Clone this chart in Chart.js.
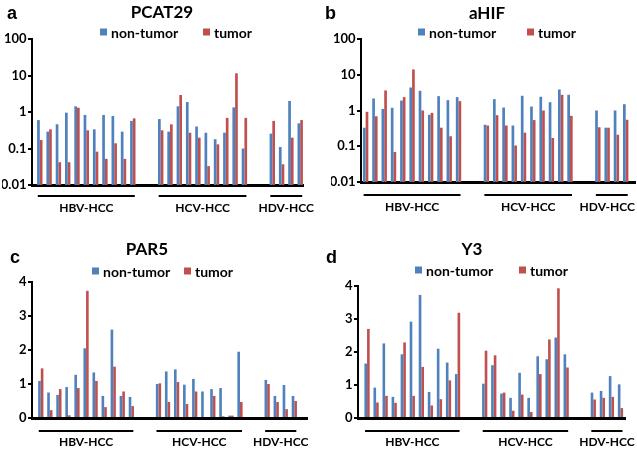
<!DOCTYPE html>
<html>
<head>
<meta charset="utf-8">
<script src="https://cdn.jsdelivr.net/npm/chart.js@4.4.1/dist/chart.umd.min.js"></script>
<style>
  body { margin: 0; background: #fff; width: 637px; height: 450px; overflow: hidden; position: relative; }
  .panel { position: absolute; }
  .panel canvas { position: absolute; left: 0; top: 0; }
  .ttl { position: absolute; transform: translate(-50%, -50%); font: bold 17px Lato, sans-serif; white-space: nowrap; }
  .lt { position: absolute; transform: translateY(-50%); font: bold 18px "Liberation Sans", Arial, sans-serif; }
  .leg { position: absolute; transform: translateY(-50%); display: flex; align-items: center; font: bold 14px Lato, sans-serif; white-space: nowrap; }
  .leg i { display: inline-block; width: 7px; height: 7px; margin-right: 4px; }
</style>
</head>
<body>
<script>
const groupNames = ['HBV-HCC', 'HCV-HCC', 'HDV-HCC'];
const groupSizes = [11, 10, 4];
const groupGap = 2;
const seriesNames = ['non-tumor', 'tumor'];
const seriesColors = ['#4F81BD', '#C0504D'];
const logTicks = [0.01, 0.1, 1, 10, 100];
const logTickLabels = ['0.01', '0.1', '1', '10', '100'];
const linTicks = [0, 1, 2, 3, 4];
const linTickLabels = ['0', '1', '2', '3', '4'];

// a: PCAT29 (log)
const pcat29NonTumor = [0.60, 0.29, 0.46, 0.96, 1.43, 0.83, 0.335, 0.83, 0.78, 0.29, 0.57,
  0.64, 0.29, 1.43, 1.88, 0.40, 0.27, 0.18, 0.27, 1.34, 0.10,
  0.255, 0.11, 2.0, 0.49];
const pcat29Tumor = [0.171, 0.335, 0.042, 0.042, 1.31, 0.315, 0.082, 0.052, 0.139, 0.052, 0.67,
  0.315, 0.46, 2.92, 0.27, 0.198, 0.033, 0.13, 0.69, 11.5, 0.69,
  0.57, 0.037, 0.198, 0.60];

// b: aHIF (log)
const ahifNonTumor = [0.33, 2.17, 1.11, 1.19, 1.9, 4.4, 3.56, 0.76, 2.52, 1.95, 2.37,
  0.40, 2.08, 1.21, 0.38, 2.58, 1.29, 2.42, 1.71, 3.88, 2.75,
  1.0, 0.33, 1.0, 1.5];
const ahifTumor = [0.92, 0.69, 3.64, 0.069, 2.37, 14.1, 1.0, 0.86, 0.33, 0.19, 1.83,
  0.38, 0.74, 0.38, 0.105, 0.24, 0.54, 1.0, 0.17, 2.75, 0.71,
  0.34, 0.33, 0.21, 0.55];

// c: PAR5 (linear)
const par5NonTumor = [1.09, 0.75, 0.68, 0.91, 1.27, 2.05, 1.34, 0.65, 2.6, 0.65, 0.62,
  1.0, 1.37, 1.43, 0.98, 1.15, 0.78, 0.85, 0.88, 0.07, 1.95,
  1.12, 0.65, 0.97, 0.65];
const par5Tumor = [1.46, 0.23, 0.85, 0.08, 0.88, 3.74, 1.09, 0.32, 1.51, 0.78, 0.35,
  1.02, 0.47, 1.06, 0.41, 0.78, 0, 0.65, 0.05, 0.07, 0.47,
  1.0, 0.47, 0.26, 0.5];

// d: Y3 (linear)
const y3NonTumor = [1.65, 0.92, 2.26, 0.64, 1.93, 2.92, 3.73, 0.79, 2.1, 1.68, 1.33,
  1.04, 1.6, 0.74, 0.61, 1.37, 0.61, 1.87, 1.78, 2.44, 1.93,
  0.77, 0.82, 1.27, 1.02];
const y3Tumor = [2.7, 0.47, 0.67, 0.46, 2.29, 0.67, 1.55, 0.38, 0.57, 1.14, 3.19,
  2.04, 1.9, 0.77, 0.22, 0.71, 0.18, 1.33, 2.38, 3.93, 1.53,
  0.56, 0.61, 0.64, 0.3];

// slot index of each sample along x (groups separated by empty slots)
const groupStart = [];
const slots = [];
let pos = 0;
groupSizes.forEach(n => {
  groupStart.push(pos);
  for (let i = 0; i < n; i++) slots.push(pos + i);
  pos += n + groupGap;
});

const groupBars = {
  id: 'groupBars',
  afterDraw(chart, args, opts) {
    const { ctx, chartArea, scales: { x } } = chart;
    ctx.save();
    ctx.strokeStyle = '#000';
    ctx.lineWidth = 2;
    ctx.fillStyle = '#000';
    ctx.font = 'bold 12px Lato, sans-serif';
    ctx.textAlign = 'center';
    ctx.textBaseline = 'middle';
    groupNames.forEach((name, g) => {
      const x0 = x.getPixelForValue(groupStart[g]) - 2;
      const x1 = x.getPixelForValue(groupStart[g] + groupSizes[g] - 1) + 2;
      const y0 = chartArea.bottom + opts.lineGap;
      ctx.beginPath();
      ctx.moveTo(x0, y0);
      ctx.lineTo(x1, y0);
      ctx.stroke();
      // keep the label inside the canvas
      const half = ctx.measureText(name).width / 2;
      const cx = Math.min((x0 + x1) / 2, chart.width - half - 2);
      ctx.fillText(name, cx, chartArea.bottom + opts.labelGap);
    });
    ctx.restore();
  }
};

const panels = [
  { letter: 'a', title: 'PCAT29', log: true, data: [pcat29NonTumor, pcat29Tumor],
    box: [0, 0, 318, 225], pad: { left: 2, right: 15, top: 39, bottom: 40 }, xMin: -0.84, xMax: 28.3,
    lineGap: 11, labelGap: 23, titleAt: [162, 11], letterAt: [7, 13], legAt: [100, 203, 32] },
  { letter: 'b', title: 'aHIF', log: true, data: [ahifNonTumor, ahifTumor],
    box: [318, 0, 319, 225], pad: { left: 13, right: 2, top: 39, bottom: 43 }, xMin: -0.5, xMax: 29.0,
    lineGap: 13, labelGap: 25, titleAt: [169, 12], letterAt: [7, 13], legAt: [100, 209, 32] },
  { letter: 'c', title: 'PAR5', log: false, data: [par5NonTumor, par5Tumor],
    box: [0, 225, 318, 225], pad: { left: 2, right: 11, top: 57, bottom: 32 }, xMin: -0.97, xMax: 29.4,
    lineGap: 13, labelGap: 24, titleAt: [147, 23], letterAt: [10, 32], legAt: [92, 184, 46] },
  { letter: 'd', title: 'Y3', log: false, data: [y3NonTumor, y3Tumor],
    box: [318, 225, 319, 225], pad: { left: 10, right: 12, top: 61, bottom: 32 }, xMin: -1.0, xMax: 28.5,
    lineGap: 13, labelGap: 24, titleAt: [154, 23], letterAt: [8, 32], legAt: [97, 201, 45] }
];

const tickFont = { family: 'Lato, sans-serif', size: 13, weight: 'bold' };

panels.forEach(p => {
  const div = document.createElement('div');
  div.className = 'panel';
  div.style.left = p.box[0] + 'px';
  div.style.top = p.box[1] + 'px';
  div.style.width = p.box[2] + 'px';
  div.style.height = p.box[3] + 'px';
  const canvas = document.createElement('canvas');
  canvas.width = p.box[2];
  canvas.height = p.box[3];
  div.appendChild(canvas);

  const lt = document.createElement('div');
  lt.className = 'lt';
  lt.textContent = p.letter;
  lt.style.left = p.letterAt[0] + 'px';
  lt.style.top = p.letterAt[1] + 'px';
  div.appendChild(lt);

  const ttl = document.createElement('div');
  ttl.className = 'ttl';
  ttl.textContent = p.title;
  ttl.style.left = p.titleAt[0] + 'px';
  ttl.style.top = p.titleAt[1] + 'px';
  div.appendChild(ttl);

  seriesNames.forEach((name, i) => {
    const leg = document.createElement('div');
    leg.className = 'leg';
    leg.innerHTML = '<i style="background:' + seriesColors[i] + '"></i>' + name;
    leg.style.left = p.legAt[i] + 'px';
    leg.style.top = p.legAt[2] + 'px';
    div.appendChild(leg);
  });
  document.body.appendChild(div);

  const ticks = p.log ? logTicks : linTicks;
  const tickLabels = p.log ? logTickLabels : linTickLabels;

  new Chart(canvas, {
    type: 'bar',
    data: {
      datasets: seriesNames.map((name, i) => ({
        label: name,
        data: p.data[i].map((v, k) => ({ x: slots[k], y: v })),
        backgroundColor: seriesColors[i],
        borderWidth: 0,
        categoryPercentage: 0.58,
        barPercentage: 1.0
      }))
    },
    options: {
      responsive: false,
      animation: false,
      devicePixelRatio: 1,
      layout: { padding: p.pad },
      plugins: {
        legend: { display: false },
        title: { display: false },
        tooltip: { enabled: false },
        groupBars: { lineGap: p.lineGap, labelGap: p.labelGap }
      },
      scales: {
        x: {
          type: 'linear',
          min: p.xMin,
          max: p.xMax,
          offset: false,
          ticks: { display: false },
          grid: { display: false },
          border: { color: '#000', width: 3 },
          afterFit: s => { s.height = 0; }
        },
        y: {
          type: p.log ? 'logarithmic' : 'linear',
          min: ticks[0],
          max: ticks[ticks.length - 1],
          afterBuildTicks: s => { s.ticks = ticks.map(v => ({ value: v })); },
          afterFit: s => { s.width = 30; },
          ticks: {
            callback: (v, i) => tickLabels[i],
            font: tickFont,
            color: '#000',
            padding: 1.5
          },
          grid: { drawOnChartArea: false, drawTicks: true, tickLength: 4, color: '#000', lineWidth: 2 },
          border: { color: '#000', width: 2 }
        }
      }
    },
    plugins: [groupBars]
  });
});
</script>
</body>
</html>
